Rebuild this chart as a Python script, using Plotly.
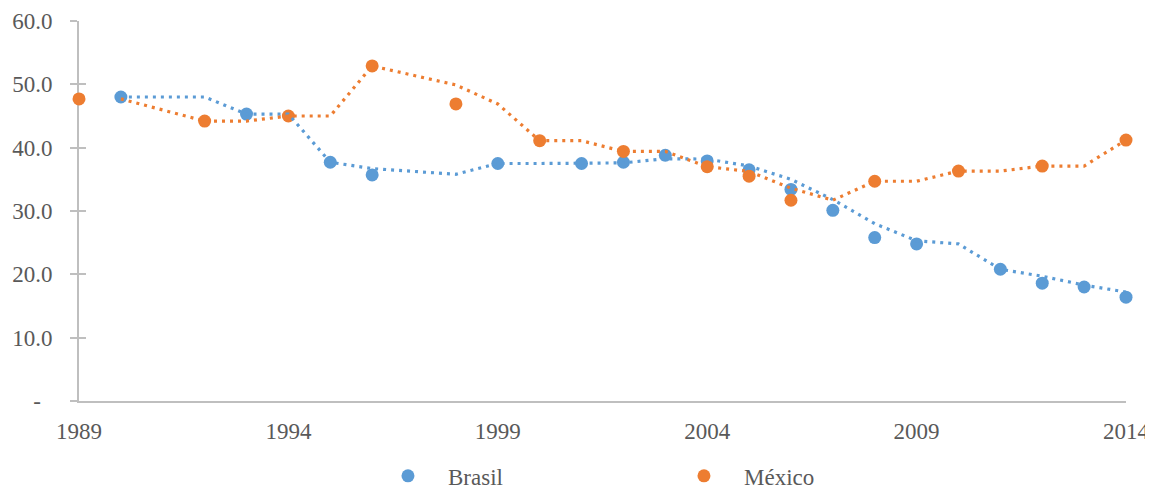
import plotly.graph_objects as go

# ---- data ----
brasil_years = [1990, 1993, 1995, 1996, 1999, 2001, 2002, 2003, 2004, 2005, 2006, 2007, 2008, 2009, 2011, 2012, 2013, 2014]
brasil_vals = [48.0, 45.3, 37.7, 35.7, 37.5, 37.5, 37.7, 38.8, 37.9, 36.5, 33.4, 30.1, 25.8, 24.8, 20.8, 18.6, 18.0, 16.4]

mexico_years = [1989, 1992, 1994, 1996, 1998, 2000, 2002, 2004, 2005, 2006, 2008, 2010, 2012, 2014]
mexico_vals = [47.7, 44.2, 45.0, 52.9, 46.9, 41.1, 39.4, 37.0, 35.5, 31.7, 34.7, 36.3, 37.1, 41.2]

# moving-average trend lines (vertices)
brasil_trend_years = [1990, 1991, 1992, 1993, 1994, 1995, 1996, 1998, 1999, 2000, 2001, 2002, 2003, 2004,
                      2005, 2006, 2007, 2008, 2009, 2010, 2011, 2012, 2013, 2014]
brasil_trend_vals = [48.0, 48.0, 48.0, 45.3, 45.3, 37.7, 36.7, 35.8, 37.5, 37.5, 37.5, 37.6, 38.25, 38.2,
                     37.1, 35.0, 31.8, 28.0, 25.3, 24.8, 20.8, 19.7, 18.3, 17.2]

mexico_trend_years = [1990, 1992, 1993, 1994, 1995, 1996, 1998, 1999, 2000, 2001, 2002, 2003, 2004, 2005,
                      2006, 2007, 2008, 2009, 2010, 2011, 2012, 2013, 2014]
mexico_trend_vals = [47.7, 44.2, 44.2, 45.0, 45.0, 52.9, 49.9, 46.9, 41.1, 41.1, 39.4, 39.4, 37.0, 36.25,
                     33.6, 31.7, 34.7, 34.7, 36.3, 36.3, 37.1, 37.1, 41.2]

x_ticks = [1989, 1994, 1999, 2004, 2009, 2014]
y_ticks = [0, 10, 20, 30, 40, 50, 60]
y_ticktext = ["-\u00a0\u00a0", "10.0", "20.0", "30.0", "40.0", "50.0", "60.0"]

BLUE = "#5B9BD5"
ORANGE = "#ED7D31"
TEXT = "#595959"
AXIS = "#BFBFBF"
FONT = "Liberation Serif"

fig = go.Figure()

fig.add_trace(go.Scatter(x=brasil_years, y=brasil_vals, mode="markers", name="Brasil",
                         marker=dict(color=BLUE, size=13), cliponaxis=False))
fig.add_trace(go.Scatter(x=mexico_years, y=mexico_vals, mode="markers", name="México",
                         marker=dict(color=ORANGE, size=13), cliponaxis=False))
fig.add_trace(go.Scatter(x=brasil_trend_years, y=brasil_trend_vals, mode="lines", showlegend=False,
                         line=dict(color=BLUE, width=3.2, dash="3px,5px"), hoverinfo="skip",
                         cliponaxis=False))
fig.add_trace(go.Scatter(x=mexico_trend_years, y=mexico_trend_vals, mode="lines", showlegend=False,
                         line=dict(color=ORANGE, width=3.2, dash="3px,5px"), hoverinfo="skip",
                         cliponaxis=False))
# invisible trace to carry the inner half of the crossing y ticks
fig.add_trace(go.Scatter(x=[1989], y=[0], yaxis="y2", mode="markers", showlegend=False,
                         marker=dict(opacity=0), hoverinfo="skip"))

# the page body has an 8px margin, so the figure is sized/offset to compensate
fig.update_layout(
    width=1145, height=481,
    margin=dict(l=71, r=27, t=13, b=88, autoexpand=False),
    paper_bgcolor="white", plot_bgcolor="white",
    font=dict(family=FONT, size=23, color=TEXT),
    xaxis=dict(range=[1989, 2014], tickvals=x_ticks, ticks="", showgrid=False, zeroline=False,
               showline=True, linecolor=AXIS, linewidth=2, ticklabelstandoff=8, automargin=False,
               layer="below traces", tickfont=dict(family=FONT, size=23, color=TEXT)),
    yaxis=dict(range=[0, 60], tickvals=y_ticks, ticktext=y_ticktext, ticks="outside", ticklen=7,
               tickwidth=2, tickcolor=AXIS, showgrid=False, zeroline=False, showline=True,
               linecolor=AXIS, linewidth=2, ticklabelstandoff=13, automargin=False,
               layer="below traces", tickfont=dict(family=FONT, size=23, color=TEXT)),
    yaxis2=dict(range=[0, 60], overlaying="y", side="left", tickvals=y_ticks, ticks="inside",
                ticklen=7, tickwidth=2, tickcolor=AXIS, showticklabels=False, showgrid=False,
                zeroline=False, showline=False, automargin=False, layer="below traces"),
    legend=dict(orientation="h", x=0.276, xanchor="left", y=-0.197, yanchor="middle",
                font=dict(family=FONT, size=23, color=TEXT), itemwidth=70,
                entrywidth=211, bgcolor="rgba(0,0,0,0)"),
    hovermode=False,
)

fig.write_html("out.html")
